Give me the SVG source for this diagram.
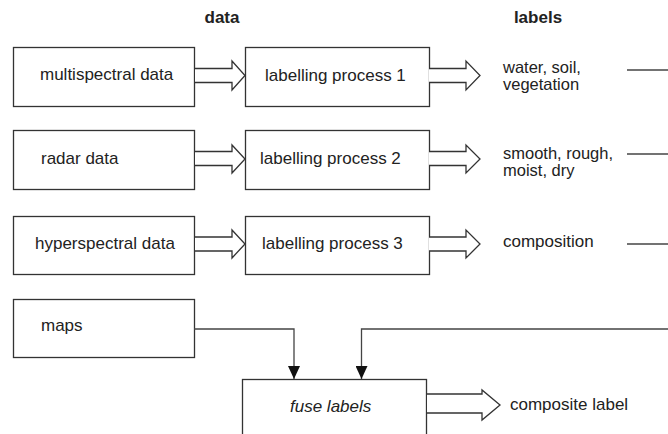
<svg xmlns="http://www.w3.org/2000/svg" width="668" height="434" viewBox="0 0 668 434">
<style>
.box{fill:#fff;stroke:#333;stroke-width:1.3}
.t{font-family:"Liberation Sans",Arial,sans-serif;font-size:17px;fill:#222}
.s{font-size:16.5px}
.h{font-weight:bold;text-anchor:middle}
.it{font-style:italic}
.ha{fill:#fff;stroke:#333;stroke-width:1.3;stroke-linejoin:miter}
.ln{fill:none;stroke:#444;stroke-width:1.3}
</style>
<defs>
<marker id="tri" markerWidth="13" markerHeight="12" refX="13" refY="6" orient="auto" markerUnits="userSpaceOnUse" viewBox="0 0 13 12">
<path d="M0,0 L13,6 L0,12 Z" fill="#111"/>
</marker>
</defs>
<rect width="668" height="434" fill="#fff"/>
<text class="t h" x="222" y="23">data</text>
<text class="t h" x="538" y="23">labels</text>

<g id="multispectral">
<rect class="box" x="13.5" y="47.5" width="181" height="59"/>
<text class="t" x="40" y="80">multispectral data</text>
</g>
<g id="radar">
<rect class="box" x="13.5" y="130.5" width="181" height="59"/>
<text class="t" x="41" y="164">radar data</text>
</g>
<g id="hyperspectral">
<rect class="box" x="13.5" y="216.5" width="181" height="58"/>
<text class="t" x="35" y="249">hyperspectral data</text>
</g>
<g id="maps">
<rect class="box" x="13.5" y="299.5" width="181" height="58"/>
<text class="t" x="41" y="331">maps</text>
</g>

<g id="process1">
<rect class="box" x="245.5" y="47.5" width="184" height="59"/>
<text class="t" x="265" y="81">labelling process 1</text>
</g>
<g id="process2">
<rect class="box" x="245.5" y="130.5" width="184" height="59"/>
<text class="t" x="260" y="164">labelling process 2</text>
</g>
<g id="process3">
<rect class="box" x="245.5" y="216.5" width="184" height="58"/>
<text class="t" x="262" y="249">labelling process 3</text>
</g>

<g id="label1">
<text class="t s" x="503" y="73">water, soil,</text>
<text class="t s" x="503" y="90">vegetation</text>
</g>
<g id="label2">
<text class="t s" x="503" y="159">smooth, rough,</text>
<text class="t s" x="503" y="176">moist, dry</text>
</g>
<g id="label3">
<text class="t" x="503" y="247">composition</text>
</g>

<g id="fuse">
<rect class="box" x="242.5" y="379.5" width="184" height="80"/>
<text class="t it" x="290" y="412">fuse labels</text>
</g>
<g id="composite">
<text class="t" x="510" y="410">composite label</text>
</g>

<g id="connectors">
<path class="ha" d="M195,68.5 H232 V61 L245,75.5 L232,90 V82.5 H195"/>
<path class="ha" d="M429,68.5 H466 V61 L480,75.5 L466,90 V82.5 H429"/>
<path class="ha" d="M195,151.5 H232 V145 L245,159 L232,173 V165.5 H195"/>
<path class="ha" d="M429,151.5 H466 V145 L480,159 L466,173 V165.5 H429"/>
<path class="ha" d="M195,237 H232 V230 L245,244 L232,258 V251 H195"/>
<path class="ha" d="M429,237 H466 V230 L480,244 L466,258 V251 H429"/>
<path class="ha" d="M427,394 H482 V390 L500,405 L482,420 V413 H427"/>
<path class="ln" d="M627,70 H668"/>
<path class="ln" d="M627,154 H668"/>
<path class="ln" d="M627,244 H668"/>
<path class="ln" d="M194,329 H294 V379" marker-end="url(#tri)"/>
<path class="ln" d="M668,329 H361.5 V379" marker-end="url(#tri)"/>
</g>
</svg>
